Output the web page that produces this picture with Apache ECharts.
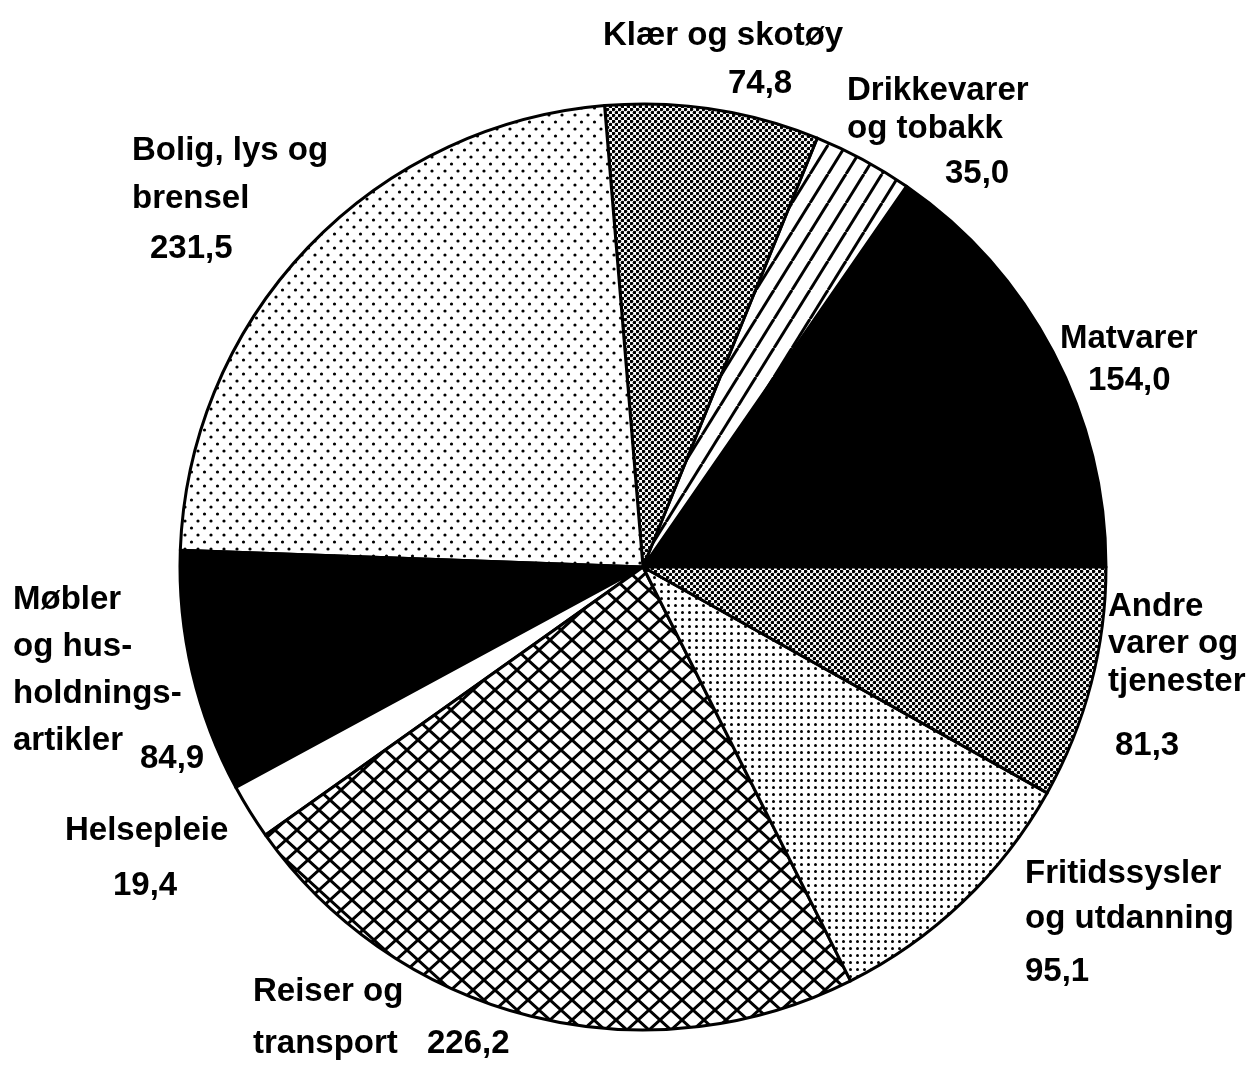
<!DOCTYPE html>
<html>
<head>
<meta charset="utf-8">
<script src="https://cdn.jsdelivr.net/npm/echarts@6/dist/echarts.min.js"></script>
<style>
  html, body { margin: 0; padding: 0; background: #fff; }
  #chart { width: 1248px; height: 1070px; }
</style>
</head>
<body>
<div id="chart"></div>
<script>
// Forbruksutgifter per gruppe (counter-clockwise from 3 o'clock)
const categories = [
    'Matvarer',
    'Drikkevarer\nog tobakk',
    'Klær og skotøy',
    'Bolig, lys og\nbrensel',
    'Møbler\nog hus-\nholdnings-\nartikler',
    'Helsepleie',
    'Reiser og\ntransport',
    'Fritidssysler\nog utdanning',
    'Andre\nvarer og\ntjenester',
];
const values = [154.0, 35.0, 74.8, 231.5, 84.9, 19.4, 226.2, 95.1, 81.3];
const valueLabels = values.map((v) => v.toFixed(1).replace('.', ','));

// label placement: top-left corner of each text box
const namePos = [[1060, 319], [847, 72], [603, 16], [132, 127], [13, 577], [65, 811], [253, 966], [1025, 851], [1108, 588]];
const nameLineHeight = [40, 38, 40, 48, 46.7, 40, 52, 45, 37.5];
const valuePos = [[1088, 361], [945, 154], [728, 64], [150, 229], [140, 739], [113, 866], [427, 1024], [1025, 952], [1115, 726]];

function tile(w, h, draw) {
    const c = document.createElement('canvas');
    c.width = w;
    c.height = h;
    const ctx = c.getContext('2d');
    ctx.fillStyle = '#fff';
    ctx.fillRect(0, 0, w, h);
    ctx.fillStyle = '#000';
    ctx.strokeStyle = '#000';
    draw(ctx, w, h);
    return { image: c, repeat: 'repeat' };
}

function dot(ctx, x, y, r) {
    ctx.beginPath();
    ctx.arc(x, y, r, 0, Math.PI * 2);
    ctx.fill();
}

const stripes = tile(18, 29, (ctx, w, h) => {
    ctx.lineWidth = 3;
    for (const o of [-w, 0, w]) {
        ctx.beginPath();
        ctx.moveTo(o, h);
        ctx.lineTo(o + w, 0);
        ctx.stroke();
    }
});
const diamonds = tile(22, 20, (ctx, w, h) => {
    ctx.lineWidth = 3;
    for (const o of [-w, 0, w]) {
        ctx.beginPath();
        ctx.moveTo(o, 0);
        ctx.lineTo(o + w, h);
        ctx.moveTo(o, h);
        ctx.lineTo(o + w, 0);
        ctx.stroke();
    }
});
const fineGrey = tile(6, 6, (ctx) => {
    dot(ctx, 1.5, 1.5, 1.8);
    dot(ctx, 4.5, 4.5, 1.8);
});
const sparseDots = tile(13, 14, (ctx) => {
    dot(ctx, 3, 3, 1.6);
    dot(ctx, 9.5, 10, 1.6);
});
const denseDots = tile(7, 7, (ctx) => {
    dot(ctx, 3.5, 3.5, 1.5);
});

const fills = ['#000', stripes, fineGrey, sparseDots, '#000', '#fff', diamonds, denseDots, fineGrey];

const font = {
    color: '#000',
    fontFamily: 'Liberation Sans, Arial, sans-serif',
    fontWeight: 'bold',
    fontSize: 33,
};

const chart = echarts.init(document.getElementById('chart'), null, { renderer: 'canvas' });

chart.setOption({
    animation: false,
    backgroundColor: '#fff',
    series: [
        {
            type: 'pie',
            center: [643, 567],
            radius: 463,
            startAngle: 0,
            clockwise: false,
            silent: true,
            avoidLabelOverlap: false,
            itemStyle: { borderColor: '#000', borderWidth: 3 },
            label: { show: true, position: 'outside', formatter: '{b}', ...font },
            labelLine: { show: false },
            labelLayout: (p) => ({
                x: namePos[p.dataIndex][0],
                y: namePos[p.dataIndex][1],
                align: 'left',
                verticalAlign: 'top',
            }),
            data: categories.map((name, i) => ({
                name,
                value: values[i],
                itemStyle: { color: fills[i] },
                label: { lineHeight: nameLineHeight[i] },
            })),
        },
        {
            // same slices, invisible, only carries the value labels
            type: 'pie',
            center: [643, 567],
            radius: 463,
            startAngle: 0,
            clockwise: false,
            silent: true,
            avoidLabelOverlap: false,
            itemStyle: { color: 'rgba(0,0,0,0)', borderWidth: 0 },
            label: {
                show: true,
                position: 'outside',
                formatter: (p) => valueLabels[p.dataIndex],
                lineHeight: 40,
                ...font,
            },
            labelLine: { show: false },
            labelLayout: (p) => ({
                x: valuePos[p.dataIndex][0],
                y: valuePos[p.dataIndex][1],
                align: 'left',
                verticalAlign: 'top',
            }),
            data: categories.map((name, i) => ({ name, value: values[i] })),
        },
    ],
});
</script>
</body>
</html>
